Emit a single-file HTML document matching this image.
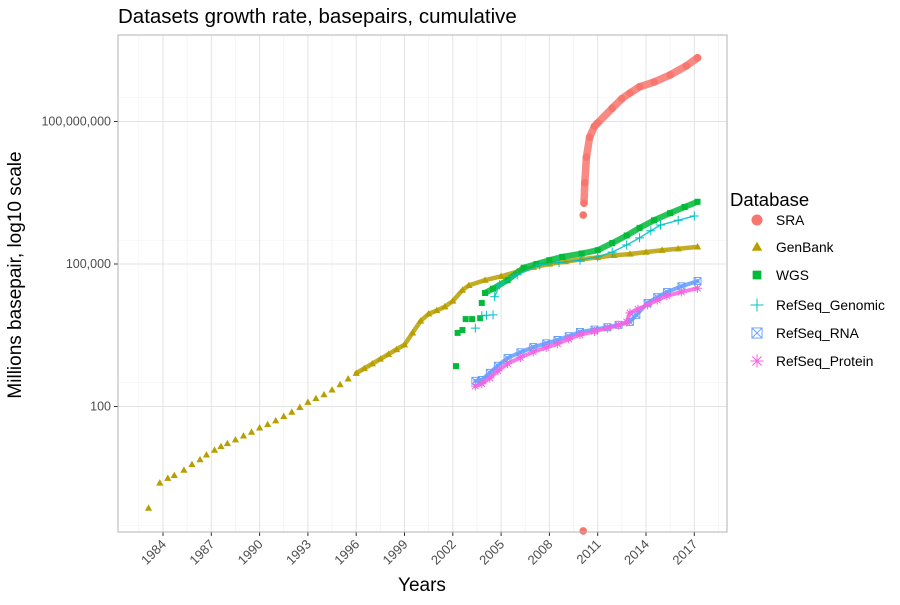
<!DOCTYPE html>
<html><head><meta charset="utf-8"><style>
body{margin:0;background:#fff;font-family:"Liberation Sans",sans-serif}
svg text{font-family:"Liberation Sans",sans-serif}
</style></head><body>
<svg id="c" width="900" height="600" xmlns="http://www.w3.org/2000/svg">
<rect width="900" height="600" fill="#fff"/>
<text x="118" y="23" font-size="20.5" fill="#000">Datasets growth rate, basepairs, cumulative</text>
<g id="grid"></g><g id="series"></g><g id="axes"></g><g id="legend"></g>
</svg>
<script>
const xTicks=[1984,1987,1990,1993,1996,1999,2002,2005,2008,2011,2014,2017];
const yTickLabels=["100","100,000","100,000,000"];
const yTickLog=[2,5,8];
// values are log10(millions of basepairs)
const genbankYears=[1983.1,1983.8,1984.3,1984.7,1985.3,1985.8,1986.3,1986.7,1987.2,1987.6,1988.0,1988.5,1989.0,1989.5,1990.0,1990.5,1991.0,1991.5,1992.0,1992.5,1993.0,1993.5,1994.0,1994.5,1995.0,1995.5,1996,1996.5,1997,1997.5,1998,1998.5,1999,1999.5,2000,2000.5,2001,2001.5,2002,2002.6,2003,2004,2005,2006,2007,2008,2009,2010,2011,2012,2013,2014,2015,2016,2017.2];
const genbankVals=[-0.14,0.39,0.49,0.55,0.66,0.78,0.88,0.98,1.08,1.16,1.22,1.3,1.38,1.46,1.55,1.62,1.7,1.79,1.88,1.98,2.09,2.17,2.25,2.35,2.46,2.58,2.7,2.8,2.9,3.0,3.1,3.2,3.3,3.55,3.8,3.95,4.02,4.1,4.22,4.45,4.55,4.66,4.74,4.84,4.93,5.0,5.05,5.1,5.14,5.18,5.21,5.25,5.29,5.32,5.36];
const wgsYears=[2002.2,2002.3,2002.6,2002.8,2003.2,2003.7,2003.8,2004.0,2004.5,2005.4,2006.4,2007.2,2008.0,2008.8,2010.0,2011.0,2011.9,2012.8,2013.6,2014.5,2015.5,2016.4,2017.2];
const wgsVals=[2.85,3.55,3.61,3.84,3.84,3.86,4.18,4.39,4.48,4.66,4.92,5.0,5.08,5.15,5.22,5.29,5.44,5.6,5.76,5.92,6.07,6.2,6.31];
const genomicYears=[2003.4,2003.8,2004.1,2004.5,2004.6,2004.9,2006.0,2007.4,2008.6,2009.9,2011.0,2011.9,2012.8,2013.6,2014.3,2014.9,2016.0,2017.0];
const genomicVals=[3.65,3.91,3.92,3.93,4.31,4.56,4.77,4.98,5.03,5.08,5.15,5.25,5.4,5.55,5.7,5.82,5.92,6.01];
const rnaYears=[2003.4,2003.8,2004.3,2004.8,2005.4,2006.2,2007.0,2007.8,2008.5,2009.2,2009.9,2010.8,2011.6,2012.3,2013.0,2013.4,2014.1,2014.7,2015.3,2016.2,2017.2];
const rnaVals=[2.54,2.56,2.71,2.86,3.02,3.14,3.25,3.33,3.4,3.48,3.57,3.62,3.67,3.72,3.78,3.93,4.18,4.3,4.41,4.53,4.64];
const protYears=[2003.4,2003.8,2004.3,2004.8,2005.4,2006.2,2007.0,2007.8,2008.5,2009.2,2009.9,2010.8,2011.6,2012.3,2012.8,2013.0,2013.5,2014.1,2014.7,2015.3,2016.2,2017.2];
const protVals=[2.43,2.48,2.6,2.75,2.9,3.03,3.15,3.24,3.32,3.42,3.51,3.58,3.65,3.71,3.78,3.97,4.05,4.14,4.24,4.33,4.41,4.49];
const sraYears=[2010.1,2010.1,2010.15,2010.2,2010.3,2010.5,2010.8,2011.0,2011.9,2012.5,2013.0,2013.6,2014.5,2015.5,2016.5,2017.2];
const sraVals=[-0.62,6.03,6.28,6.71,7.25,7.67,7.9,7.97,8.28,8.48,8.6,8.73,8.83,8.98,9.17,9.34];

const NS="http://www.w3.org/2000/svg";
const L=118,R=727,T=35,B=532;
const xS=y=>163+(y-1984)*16.1;
const yS=v=>264-(v-5)*47.5;
function mk(t,a,p){const e=document.createElementNS(NS,t);for(const k in a)e.setAttribute(k,a[k]);p.appendChild(e);return e;}
const grid=document.getElementById('grid'),axes=document.getElementById('axes'),ser=document.getElementById('series'),leg=document.getElementById('legend');
const panel=mk('rect',{x:L,y:T,width:R-L,height:B-T,fill:'#fff'},grid);

for(let v=-0.5;v<=9.5;v+=3){const g=mk('line',{x1:L,x2:R,y1:yS(v),y2:yS(v),stroke:'#f0f0f0','stroke-width':0.6},grid);}
for(let y=1982.5;y<=2018.5;y+=3){const x=xS(y);if(x<L||x>R)continue;const g=mk('line',{x1:x,x2:x,y1:T,y2:B,stroke:'#f0f0f0','stroke-width':0.6},grid);}
yTickLog.forEach((v,i)=>{const g=mk('line',{x1:L,x2:R,y1:yS(v),y2:yS(v),stroke:'#e3e3e3','stroke-width':1},grid);
 mk('line',{x1:L-4,x2:L,y1:yS(v),y2:yS(v),stroke:'#333'},axes);
 const t=mk('text',{x:L-7,y:yS(v)+4,'text-anchor':'end','font-size':12.5,fill:'#4d4d4d'},axes);t.textContent=yTickLabels[i];
 });
xTicks.forEach(y=>{const x=xS(y);const g=mk('line',{x1:x,x2:x,y1:T,y2:B,stroke:'#e3e3e3','stroke-width':1},grid);
 mk('line',{x1:x,x2:x,y1:B,y2:B+4,stroke:'#333'},axes);
 const t=mk('text',{x:x+4,y:B+13,'text-anchor':'end','font-size':13,fill:'#4d4d4d',transform:`rotate(-45 ${x+4} ${B+13})`},axes);t.textContent=y;
 });
const br=mk('rect',{x:L,y:T,width:R-L,height:B-T,fill:'none',stroke:'#b3b3b3','stroke-width':1},axes);

const xt=mk('text',{x:422,y:591,'text-anchor':'middle','font-size':19},axes);xt.textContent='Years';

const yt=mk('text',{x:21,y:275,'text-anchor':'middle','font-size':19,transform:'rotate(-90 21 275)'},axes);yt.textContent='Millions basepair, log10 scale';


function shape(kind,x,y,c,p,s){s=s||1;
 if(kind==='circle')return mk('circle',{cx:x,cy:y,r:3.8*s,fill:c},p);
 if(kind==='tri')return mk('path',{d:`M${x} ${y-3.8*s}L${x+3.6*s} ${y+2.6*s}L${x-3.6*s} ${y+2.6*s}Z`,fill:c},p);
 if(kind==='sq')return mk('rect',{x:x-3*s,y:y-3*s,width:6*s,height:6*s,fill:c},p);
 if(kind==='plus')return mk('path',{d:`M${x-4.5*s} ${y}H${x+4.5*s}M${x} ${y-4.5*s}V${y+4.5*s}`,stroke:c,'stroke-width':1,fill:'none'},p);
 if(kind==='box'){const a=3.5*s;return mk('path',{d:`M${x-a} ${y-a}h${2*a}v${2*a}h${-2*a}zM${x-a} ${y-a}l${2*a} ${2*a}M${x+a} ${y-a}l${-2*a} ${2*a}`,stroke:c,'stroke-width':0.9,fill:'none'},p);}
 if(kind==='star'){const a=4.5*s,b=3.2*s;return mk('path',{d:`M${x-a} ${y}H${x+a}M${x} ${y-a}V${y+a}M${x-b} ${y-b}L${x+b} ${y+b}M${x+b} ${y-b}L${x-b} ${y+b}`,stroke:c,'stroke-width':1,fill:'none'},p);}
}
const seriesDefs=[
 ['genbank',genbankYears,genbankVals,'#b79f00','tri',4.5,1995.8],
 ['wgs',wgsYears,wgsVals,'#00ba38','sq',6,2004],
 ['refseq-genomic',genomicYears,genomicVals,'#00bfc4','plus',1.5,2004.6],
 ['refseq-rna',rnaYears,rnaVals,'#619cff','box',4,0],
 ['refseq-protein',protYears,protVals,'#f564e3','star',4,0],
 ['sra',sraYears,sraVals,'#f8766d','circle',7.5,2010.12]];
seriesDefs.forEach(([n,xs,vs,c,k,w,lineFrom])=>{
 const g=mk('g',{},ser);
 const pts=xs.map((x,i)=>[xS(x),yS(vs[i]),x]).filter(p=>p[2]>=lineFrom);
 if(pts.length>1){const pl=mk('polyline',{points:pts.map(p=>p[0]+','+p[1]).join(' '),fill:'none',stroke:c,'stroke-width':w,'stroke-linecap':'round','stroke-linejoin':'round','stroke-opacity':0.85},g);
  }
 xs.forEach((x,i)=>{const s=shape(k,xS(x),Math.min(yS(vs[i]),B-1),c,g);
  });
});
const lt=mk('text',{x:730,y:206,'font-size':18.5},leg);lt.textContent='Database';

const legItems=[['SRA','circle','#f8766d'],['GenBank','tri','#b79f00'],['WGS','sq','#00ba38'],['RefSeq_Genomic','plus','#00bfc4'],['RefSeq_RNA','box','#619cff'],['RefSeq_Protein','star','#f564e3']];
const legY=[220,247,275,305,333,361];
legItems.forEach(([t,k,c],i)=>{const y=legY[i];const g=mk('g',{},leg);
 shape(k,757,y,c,g,1.45);
 const tx=mk('text',{x:776,y:y+5,'font-size':13.8,fill:'#000'},g);tx.textContent=t;});
</script>
</body></html>
